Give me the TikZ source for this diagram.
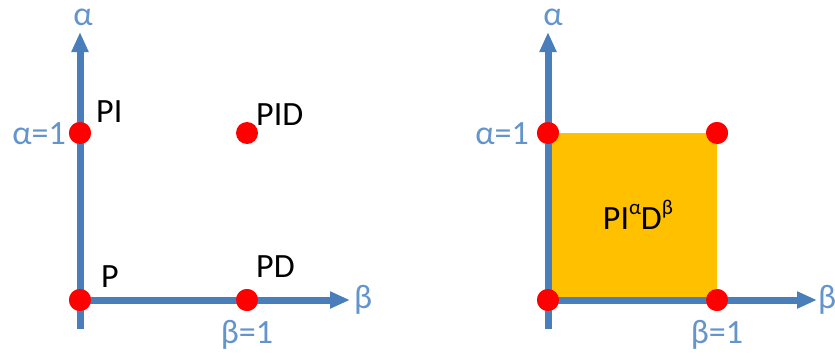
\documentclass[tikz,border=0pt]{standalone}
\usepackage{fontspec}
\setmainfont{Carlito}
\usetikzlibrary{arrows.meta}
\definecolor{axisblue}{HTML}{4A7EBB}
\definecolor{textblue}{HTML}{6494CC}
\definecolor{dotred}{HTML}{FF0000}
\definecolor{boxorange}{HTML}{FFC000}
\tikzset{
  axis/.style={draw=axisblue, line width=7pt, -{Triangle[width=16pt,length=20pt]}},
  dot/.style={circle, fill=dotred, minimum size=22pt, inner sep=0pt},
  lbl/.style={inner sep=0pt, font=\fontsize{34}{40}\selectfont},
  axlbl/.style={lbl, text=textblue},
}
\begin{document}
\begin{tikzpicture}[x=1pt,y=-1pt]
\useasboundingbox (0,0) rectangle (835,356);
% ---------- left panel ----------
\coordinate (Lbot) at (80,329);
\coordinate (Ltop) at (80,32);
\coordinate (Lright) at (350,300);
\node[dot] (P) at (80,300) {};
\node[dot] (PI) at (80,133) {};
\node[dot] (PID) at (247,133) {};
\node[dot] (PD) at (247,300) {};
\draw[axis] (Lbot) -- (Ltop);
\draw[axis] (P.center) -- (Lright);
\node[dot] at (P) {};
\node[dot] at (PI) {};
\node[dot] at (PD) {};
\node[lbl, anchor=base west] (tPI) at (96,122) {PI};
\node[lbl, anchor=base west] (tPID) at (256,125) {PID};
\node[lbl, anchor=base west] (tP) at (101,287) {P};
\node[lbl, anchor=base west] (tPD) at (256,277) {PD};
\node[axlbl, anchor=base] (tal) at (83,25) {α};
\node[axlbl, anchor=base east] (ta1) at (66,144) {α=1};
\node[axlbl, anchor=base west] (tbe) at (354,308) {β};
\node[axlbl, anchor=base] (tb1) at (247,343) {β=1};
% ---------- right panel ----------
\coordinate (Rbot) at (548,329);
\coordinate (Rtop) at (548,32);
\coordinate (Rright) at (817,300);
\node[dot] (Q00) at (548,300) {};
\node[dot] (Q01) at (548,133) {};
\node[dot] (Q11) at (717,133) {};
\node[dot] (Q10) at (717,300) {};
\fill[boxorange] (Q01.center) rectangle (Q10.center);
\draw[axis] (Rbot) -- (Rtop);
\draw[axis] (Q00.center) -- (Rright);
\node[dot] at (Q00) {};
\node[dot] at (Q01) {};
\node[dot] at (Q11) {};
\node[dot] at (Q10) {};
\node[lbl, anchor=base] (tpid) at (638,229) {PI\raisebox{0.42em}{\fontsize{21}{21}\selectfont α}D\raisebox{0.42em}{\fontsize{21}{21}\selectfont β}};
\node[axlbl, anchor=base] (ral) at (553,25) {α};
\node[axlbl, anchor=base east] (ra1) at (529,144) {α=1};
\node[axlbl, anchor=base west] (rbe) at (818,308) {β};
\node[axlbl, anchor=base] (rb1) at (717,343) {β=1};
\end{tikzpicture}
\end{document}
